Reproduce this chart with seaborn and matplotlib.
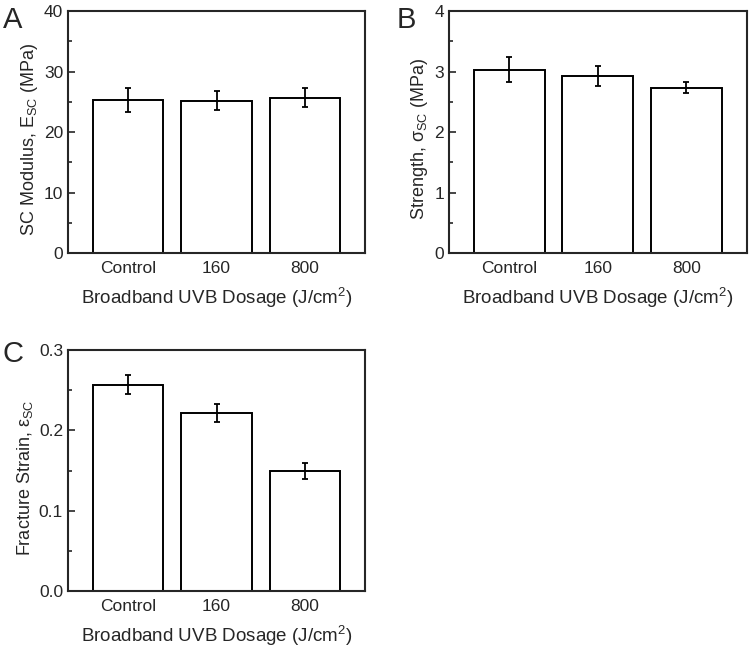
import numpy as np
import pandas as pd
import matplotlib
matplotlib.use("Agg")
import matplotlib.pyplot as plt
import seaborn as sns
from matplotlib.ticker import MultipleLocator, FormatStrFormatter

# data
groups = ["Control", "160", "800"]
modulus = [25.3, 25.2, 25.7]
modulus_err = [2.0, 1.6, 1.5]
strength = [3.03, 2.93, 2.73]
strength_err = [0.21, 0.17, 0.09]
strain = [0.257, 0.222, 0.149]
strain_err = [0.012, 0.011, 0.010]

sns.set_style("ticks")
plt.rcParams["font.family"] = ["Liberation Sans", "DejaVu Sans"]
plt.rcParams["mathtext.fontset"] = "custom"
plt.rcParams["mathtext.rm"] = "Liberation Sans"
plt.rcParams["mathtext.default"] = "regular"

XLABEL = "Broadband UVB Dosage (J/cm$^{2}$)"


def panel(fig, rect, values, errs, ylim, major, minor, ylabel, fmt):
    ax = fig.add_axes(rect)
    df = pd.DataFrame({"group": groups, "value": values})
    sns.barplot(data=df, x="group", y="value", color="white", edgecolor="black",
                linewidth=1.4, width=0.8, errorbar=None, ax=ax)
    ax.errorbar(range(len(groups)), values, yerr=errs, fmt="none", ecolor="black",
                elinewidth=1.3, capsize=2.5, capthick=1.3)
    ax.set_xlim(-0.68, 2.68)
    ax.set_ylim(*ylim)
    ax.yaxis.set_major_locator(MultipleLocator(major))
    ax.yaxis.set_minor_locator(MultipleLocator(minor))
    ax.yaxis.set_major_formatter(FormatStrFormatter(fmt))
    ax.tick_params(axis="both", which="both", direction="in", labelsize=12.5,
                   width=1.2, top=False, right=False)
    ax.tick_params(axis="both", which="major", length=5)
    ax.tick_params(axis="y", which="minor", length=3)
    ax.tick_params(axis="x", pad=6)
    for s in ax.spines.values():
        s.set_linewidth(1.5)
        s.set_visible(True)
    ax.set_xlabel(XLABEL, fontsize=13.5, labelpad=7)
    ax.set_ylabel(ylabel, fontsize=13, labelpad=3)
    ax.yaxis.label.set_y(0.47)
    return ax


fig = plt.figure(figsize=(7.52, 6.49), dpi=100)
panel(fig, [0.0904, 0.610, 0.395, 0.373], modulus, modulus_err, (0, 40), 10, 5,
      "SC Modulus, E$_{SC}$ (MPa)", "%d")
panel(fig, [0.597, 0.610, 0.396, 0.373], strength, strength_err, (0, 4), 1, 0.5,
      "Strength, σ$_{SC}$ (MPa)", "%d")
panel(fig, [0.0904, 0.0894, 0.395, 0.371], strain, strain_err, (0, 0.3), 0.1, 0.05,
      "Fracture Strain, ε$_{SC}$", "%.1f")

# panel letters
fig.text(0.004, 0.957, "A", fontsize=21, va="baseline", ha="left")
fig.text(0.527, 0.957, "B", fontsize=21, va="baseline", ha="left")
fig.text(0.003, 0.442, "C", fontsize=21, va="baseline", ha="left")

fig.savefig("out.png", dpi=100)
